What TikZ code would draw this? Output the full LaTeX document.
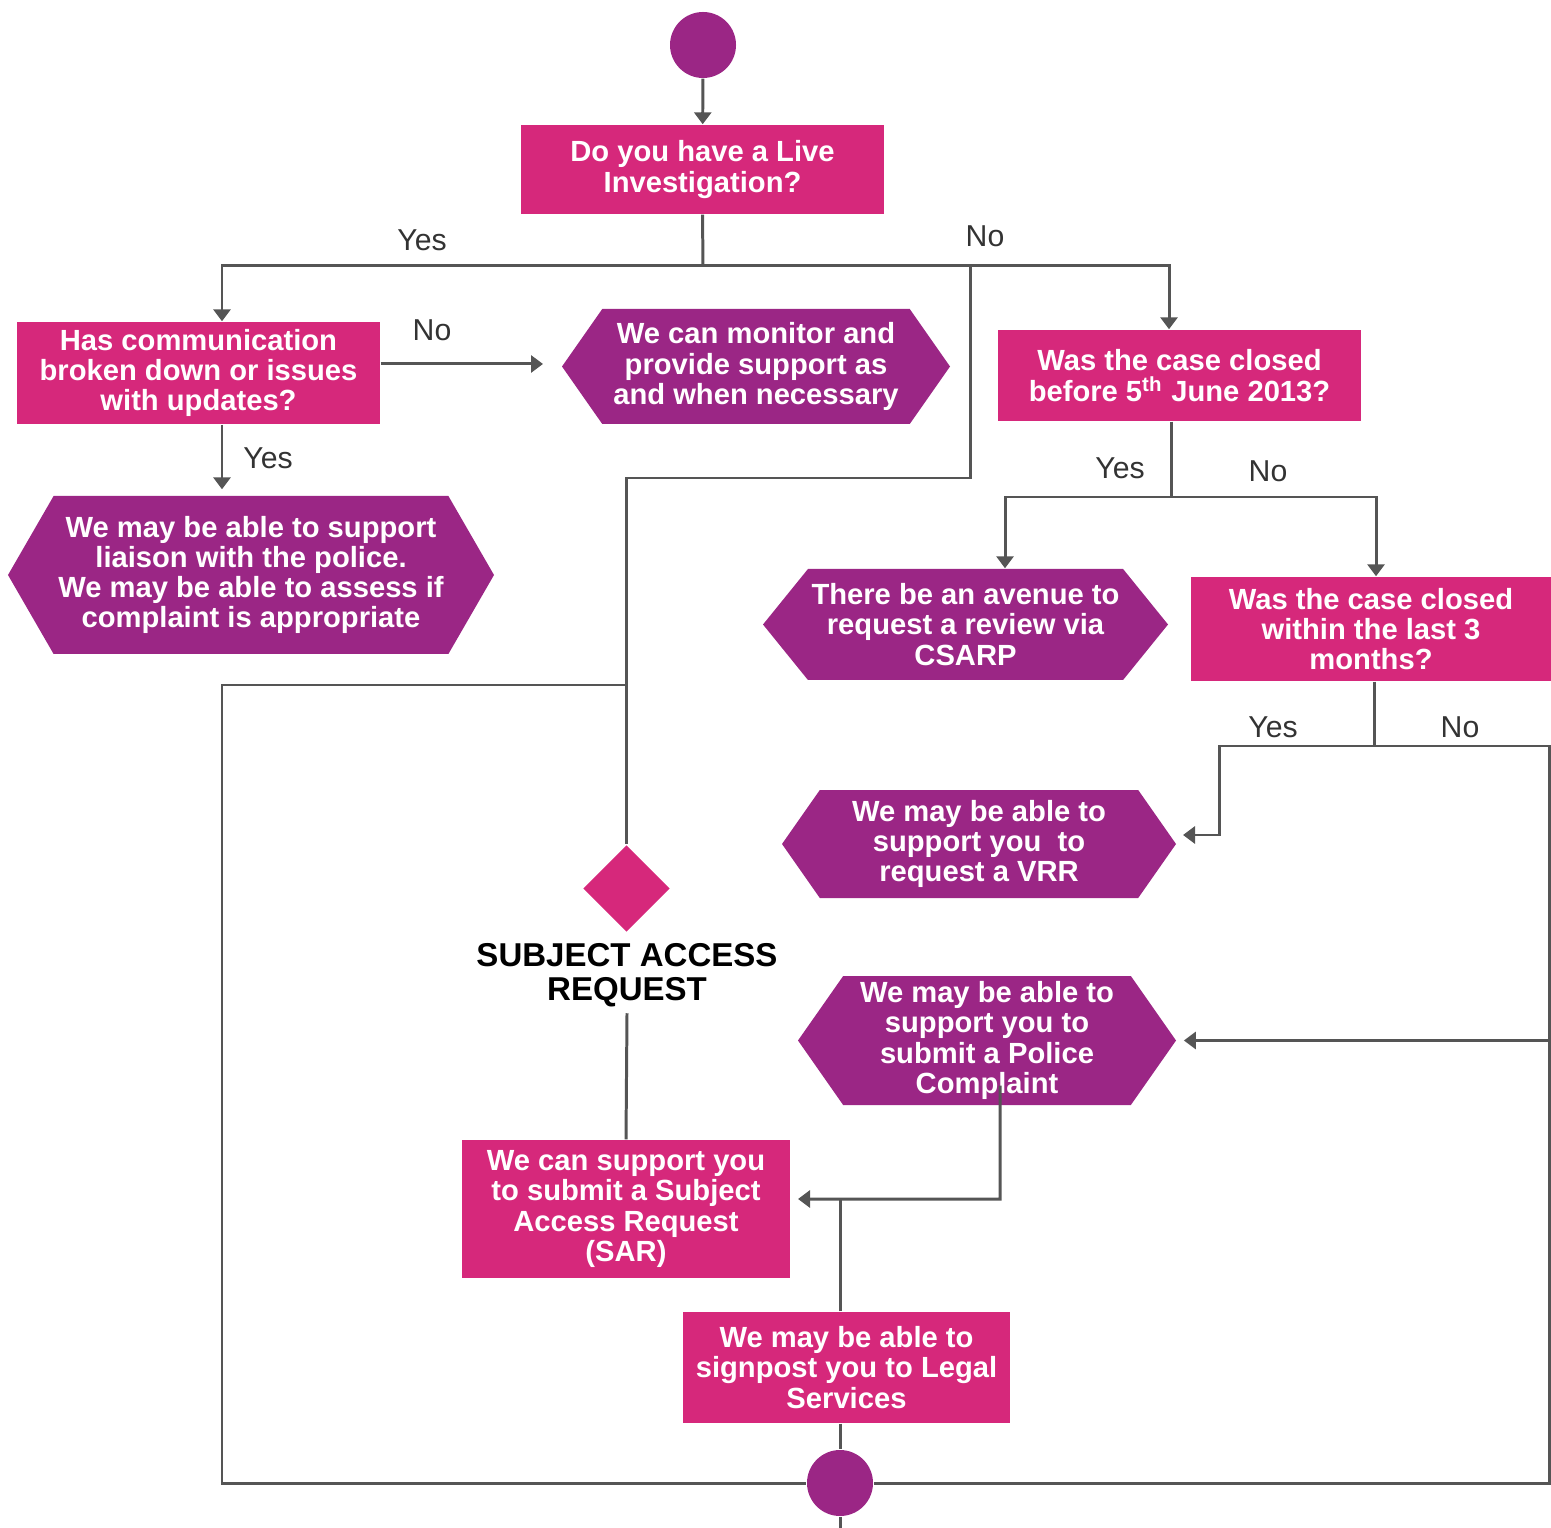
\documentclass[tikz,border=0pt]{standalone}
\usepackage{fontspec}
\setmainfont{Liberation Sans}
\usetikzlibrary{arrows.meta,shapes.geometric,shapes.symbols}
\definecolor{casepink}{HTML}{D6287B}
\definecolor{casepurple}{HTML}{9B2685}
\definecolor{flowgrey}{HTML}{555555}
\tikzset{
  qbox/.style={rectangle, fill=casepink, text=white, align=center, inner sep=0pt,
    font=\fontsize{8.3}{8.6}\selectfont\bfseries},
  hexbox/.style={shape=signal, signal to=east and west, signal pointer angle=110,
    fill=casepurple, text=white, align=center, inner sep=0pt,
    font=\fontsize{8.3}{8.6}\selectfont\bfseries},
  endpoint/.style={circle, fill=casepurple, minimum size=6.6mm, inner sep=0pt},
  flow/.style={line width=0.85pt, draw=flowgrey},
  flowarrow/.style={flow, -{Triangle[width=1.7mm,length=1.2mm]}},
  answer/.style={font=\fontsize{8.6}{9}\selectfont, text=black!80},
}

\begin{document}
\begin{tikzpicture}
			%%%%% START %%%%%
			\useasboundingbox (0,0) rectangle (15.51,-15.28);
			
			\node[endpoint] (start) at (7.03,-0.45) {};
			\node[qbox, minimum width=3.63cm, minimum height=0.89cm] (live) at (7.025,-1.695) {Do you have a Live\\Investigation?};
			
			\node[qbox, minimum width=3.63cm, minimum height=1.02cm] (comm) at (1.985,-3.73) {Has communication\\broken down or issues\\with updates?};
			\node[hexbox, minimum width=3.88cm, minimum height=1.15cm] (monitor) at (7.56,-3.665) {We can monitor and\\provide support as\\and when necessary};
			\node[hexbox, signal pointer angle=120, minimum width=4.86cm, minimum height=1.58cm] (liaison) at (2.51,-5.75) {We may be able to support\\liaison with the police.\\We may be able to assess if\\complaint is appropriate};
			
			\node[qbox, minimum width=3.63cm, minimum height=0.91cm] (before) at (11.795,-3.755) {Was the case closed\\before 5\textsuperscript{th} June 2013?};
			\node[hexbox, signal pointer angle=102, minimum width=4.05cm, minimum height=1.11cm] (csarp) at (9.655,-6.245) {There be an avenue to\\request a review via\\CSARP};
			\node[qbox, minimum width=3.6cm, minimum height=1.04cm] (within) at (13.71,-6.29) {Was the case closed\\within the last 3\\months?};
			
			\node[hexbox, minimum width=3.94cm, minimum height=1.08cm] (vrr) at (9.79,-8.44) {We may be able to\\support you\ \ to\\request a VRR};
			\node[hexbox, minimum width=3.78cm, minimum height=1.29cm] (police) at (9.87,-10.405) {We may be able to\\support you to\\submit a Police\\Complaint};
			
			\node[diamond, fill=casepink, minimum size=0.87cm, inner sep=0pt] (sarq) at (6.265,-8.885) {};
			\node[align=center, font=\fontsize{9.4}{9.7}\selectfont\bfseries] (sarlabel) at (6.27,-9.75) {SUBJECT ACCESS\\REQUEST};
			\node[qbox, minimum width=3.28cm, minimum height=1.38cm] (sar) at (6.26,-12.09) {We can support you\\to submit a Subject\\Access Request\\(SAR)};
			\node[qbox, minimum width=3.27cm, minimum height=1.11cm] (legal) at (8.465,-13.675) {We may be able to\\signpost you to Legal\\Services};
			\node[endpoint] (end) at (8.40,-14.83) {};
			
			\node[answer] (yes1) at (4.22,-2.40) {Yes};
			\node[answer] (no1) at (9.85,-2.36) {No};
			\node[answer] (no2) at (4.32,-3.30) {No};
			\node[answer] (yes2) at (2.68,-4.58) {Yes};
			\node[answer] (yes3) at (11.20,-4.68) {Yes};
			\node[answer] (no3) at (12.68,-4.71) {No};
			\node[answer] (yes4) at (12.73,-7.27) {Yes};
			\node[answer] (no4) at (14.60,-7.27) {No};
			
			\coordinate (split) at (7.03,-2.66);
			\coordinate (yesturn) at (2.22,-2.66);
			\coordinate (noturn) at (11.69,-2.66);
			\coordinate (monin) at (5.43,-3.64);
			\coordinate (sarfork) at (9.70,-2.66);
			\coordinate (sarbend) at (9.70,-4.78);
			\coordinate (sarside) at (6.265,-6.85);
			\coordinate (leftrail) at (2.22,-6.85);
			\coordinate (bfork) at (11.71,-4.97);
			\coordinate (csarpdrop) at (10.05,-4.97);
			\coordinate (withindrop) at (13.76,-4.97);
			\coordinate (wfork) at (13.74,-7.46);
			\coordinate (vrrturn) at (12.19,-7.46);
			\coordinate (vrrin) at (11.83,-8.35);
			\coordinate (rightrail) at (15.49,-7.46);
			\coordinate (polturn) at (10.00,-11.99);
			\coordinate (legalup) at (8.40,-11.99);
			\coordinate (sarin) at (7.98,-11.99);
			\coordinate (bottom) at (8.40,-15.28);
			
			\draw[flowarrow] (start) -- (live);
			\draw[flow] (live.south) -- (split);
			\draw[flowarrow] (split) -- (yesturn) -- (yesturn |- comm.north);
			\draw[flowarrow] (split) -- (noturn) -- (noturn |- before.north);
			
			\draw[flowarrow] (comm.east |- monin) -- (monin);
			\draw[flowarrow] (yesturn |- comm.south) -- ([yshift=0.6mm]yesturn |- liaison.north);
			
			\draw[flow] (sarfork) -- (sarbend) -| (sarq.north);
			\draw[flow] (sarside) -- (leftrail) |- (end.west);
			\draw[flow] ([yshift=0.6mm]sarlabel.south) -- (sar.north);
			
			\draw[flow] (bfork |- before.south) -- (bfork);
			\draw[flowarrow] (bfork) -- (csarpdrop) -- (csarpdrop |- csarp.north);
			\draw[flowarrow] (bfork) -- (withindrop) -- (withindrop |- within.north);
			
			\draw[flow] (wfork |- within.south) -- (wfork);
			\draw[flowarrow] (wfork) -- (vrrturn) |- (vrrin);
			\draw[flow] (wfork) -- (rightrail) |- (end.east);
			\draw[flowarrow] (rightrail |- police.east) -- ([xshift=0.7mm]police.east);
			
			\draw[flowarrow] ([xshift=1.3mm,yshift=2mm]police.south) -- (polturn) -- (sarin);
			\draw[flow] (legalup |- legal.north) -- (legalup);
			\draw[flow] (end.north |- legal.south) -- (end.north);
			\draw[flow] (end.south) -- (bottom);
			%%%%% END %%%%%
\end{tikzpicture}
\end{document}
